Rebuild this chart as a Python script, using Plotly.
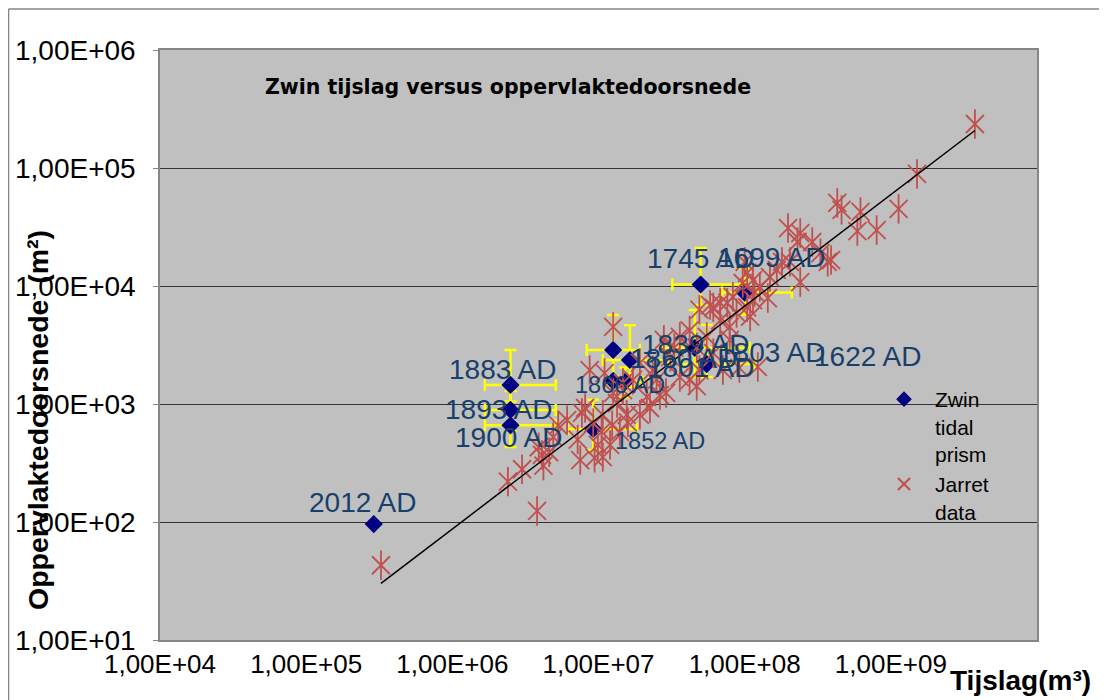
import numpy as np
import plotly.graph_objects as go

# ---------------- data ----------------
zwin_labels = ["2012 AD", "1883 AD", "1893 AD", "1900 AD", "1852 AD", "1839 AD", "1860 AD",
               "1866 AD", "1801 AD", "1803 AD", "1622 AD", "1745 AD", "1699 AD"]
zwin_prism = [2.9e5, 2.5e6, 2.5e6, 2.5e6, 9.2e6, 1.26e7, 1.64e7, 1.26e7, 1.52e7, 4.56e7, 5.5e7, 5.0e7, 1.0e8]
zwin_area = [96, 1450, 890, 660, 614, 2870, 2360, 1570, 1540, 2990, 2180, 10300, 8800]
zwin_xerr_plus = [0, 2.6e6, 2.6e6, 2.6e6, 9.1e6, 6.6e6, 1.44e7, 0, 5.0e6, 6.3e7, 6.2e7, 5.4e7, 1.1e8]
zwin_xerr_minus = [0, 8.3e5, 8.3e5, 8.3e5, 3.0e6, 4.3e6, 5.7e6, 0, 4.0e6, 1.8e7, 1.9e7, 1.8e7, 3.0e7]
zwin_yerr_plus = [0, 1420, 400, 250, 470, 2800, 2300, 0, 500, 3280, 2490, 10700, 5400]
zwin_yerr_minus = [0, 400, 300, 228, 207, 1180, 970, 0, 400, 1300, 490, 3400, 3100]

jarret_prism = [3.25e5, 2.4e6, 3.0e6, 3.8e6, 4.2e6, 4.1e6, 3.9e6, 4.6e6, 6.1e6, 5.3e6,
                7.5e6, 9.4e6, 1.07e7, 9.9e6, 1.05e7, 9.2e6, 7.7e6, 8.1e6, 1.07e7, 1.24e7,
                1.34e7, 1.56e7, 1.26e7, 1.47e7, 8.7e6, 1.1e7, 1.26e7, 1.47e7, 1.72e7, 1.92e7,
                2.35e7, 2.5e7, 2.14e7, 2.9e7, 3.6e7, 4.2e7, 4.9e7, 4.7e7, 7.1e7, 6.1e7,
                2.8e7, 3.6e7, 3.1e7, 4.7e7, 5.5e7, 6.1e7, 7.6e7, 8.8e7, 1.04e8, 1.14e8,
                6.8e7, 7.9e7, 1.04e8, 9.7e7, 1.14e8, 1.23e8, 1.44e8, 1.09e8, 7.9e7, 6.8e7,
                5.8e7, 8.3e7, 1.17e8, 1.27e8, 1.49e8, 1.66e8, 1.8e8, 1.98e8, 2.4e8, 2.3e8,
                2.9e8, 3.9e8, 2.4e8, 3.3e8, 4.3e8, 4.6e8, 6.2e8, 5.9e8, 8.0e8, 1.13e9,
                1.51e9, 3.76e9, 3.7e8, 2.04e8, 1.0e8, 2.25e7, 1.92e7, 1.59e7, 1.4e7, 7.2e6,
                1.2e7, 2.63e7, 9.2e7, 4.9e7, 4.2e7, 3.3e7, 4.9e6]
jarret_area = [43, 220, 280, 124, 300, 370, 430, 390, 730, 660,
               335, 350, 355, 450, 580, 690, 840, 925, 810, 660,
               1020, 810, 1240, 1310, 1940, 1830, 4500, 1510, 1600, 2230,
               1940, 1600, 1150, 1240, 1690, 1600, 1940, 1420, 1940, 2700,
               3500, 3700, 2500, 3000, 3700, 6600, 7200, 5900, 6600, 7600,
               5100, 4500, 12900, 10600, 11200, 2060, 7900, 5500, 3500, 7200,
               6900, 8100, 8900, 9800, 11900, 13700, 16000, 31000, 28100, 23600,
               23600, 16600, 10800, 19000, 50600, 44100, 42400, 29200, 29800, 45000,
               89000, 236000, 16000, 16000, 16000, 925, 810, 700, 580, 500,
               450, 1190, 2020, 6300, 4200, 3000, 525]

x_tick_vals = [1e4, 1e5, 1e6, 1e7, 1e8, 1e9]
x_tick_text = ["1,00E+04", "1,00E+05", "1,00E+06", "1,00E+07", "1,00E+08", "1,00E+09"]
y_tick_vals = [1e1, 1e2, 1e3, 1e4, 1e5, 1e6]
y_tick_text = ["1,00E+01", "1,00E+02", "1,00E+03", "1,00E+04", "1,00E+05", "1,00E+06"]

title_text = "Zwin tijslag versus oppervlaktedoorsnede"
x_title = "Tijslag(m³)"
y_title = "Oppervlaktedoorsnede\u00a0\u00a0(m²)"

# label placement offsets (px) relative to their points
label_dx = [-11, -8, -12, -2, 67, 82, 54, 7, 75, 77, 161, 0, 27]
label_dy = [22, 15, 0, -12, -12, 5, 2, -4, 14, -5, 8, 26, 35]
label_size = [28, 28, 28, 28, 23.5, 28, 28, 23.5, 28, 28, 28, 28, 28]

# power-law trendline fitted to Jarret data
lx = np.log10(jarret_prism)
ly = np.log10(jarret_area)
b, a = np.polyfit(lx, ly, 1)
trend_x = np.array([min(jarret_prism), max(jarret_prism)])
trend_y = 10 ** (a + b * np.log10(trend_x))

FONT = "Liberation Sans, Arial, sans-serif"

fig = go.Figure()

fig.add_trace(go.Scatter(
    x=zwin_prism, y=zwin_area, mode="markers", name="Zwin<br>tidal<br>prism",
    marker=dict(symbol="diamond", size=14, color="#000080"),
    error_x=dict(type="data", array=zwin_xerr_plus, arrayminus=zwin_xerr_minus,
                 color="#FFFF00", thickness=2.5, width=6),
    error_y=dict(type="data", array=zwin_yerr_plus, arrayminus=zwin_yerr_minus,
                 color="#FFFF00", thickness=2.5, width=6),
))

fig.add_trace(go.Scatter(
    x=jarret_prism, y=jarret_area, mode="markers", name="Jarret<br>data",
    marker=dict(symbol="x-thin-open", size=18, color="#C0504D",
                line=dict(color="#C0504D", width=1.8)),
    legendgroup="j",
))
fig.add_trace(go.Scatter(
    x=jarret_prism, y=jarret_area, mode="markers", showlegend=False,
    marker=dict(symbol="line-ns-open", size=21, color="#C0504D",
                line=dict(color="#C0504D", width=1.8)),
    legendgroup="j", hoverinfo="skip",
))

fig.add_trace(go.Scatter(
    x=trend_x, y=trend_y, mode="lines", showlegend=False,
    line=dict(color="black", width=1.5),
))

annotations = []
for lab, px, py, dx, dy, fs in zip(zwin_labels, zwin_prism, zwin_area, label_dx, label_dy, label_size):
    annotations.append(dict(
        x=np.log10(px), y=np.log10(py), xref="x", yref="y", text=lab, showarrow=False,
        xshift=dx, yshift=dy, font=dict(family=FONT, size=fs, color="#17406D"),
    ))

annotations.append(dict(
    x=0.1174, y=0.9373, xref="paper", yref="paper", xanchor="left", yanchor="middle",
    text="<b>" + title_text + "</b>", showarrow=False,
    font=dict(family="DejaVu Sans, Verdana, sans-serif", size=20.5, color="black"),
))
annotations.append(dict(
    x=0.8985, y=-0.0678, xref="paper", yref="paper", xanchor="left", yanchor="middle",
    text="<b>" + x_title + "</b>", showarrow=False,
    font=dict(family=FONT, size=28, color="black"),
))
annotations.append(dict(
    x=-0.139, y=0.373, xref="paper", yref="paper", xanchor="center", yanchor="middle",
    text="<b>" + y_title + "</b>", showarrow=False, textangle=-90,
    font=dict(family=FONT, size=28.5, color="black"),
))

fig.update_layout(
    width=1107, height=700,
    margin=dict(l=152, r=78, t=42, b=68, autoexpand=False),
    paper_bgcolor="white", plot_bgcolor="#C0C0C0",
    font=dict(family=FONT, size=26, color="black"),
    annotations=annotations,
    showlegend=True,
    legend=dict(x=0.813, y=0.4424, xanchor="left", yanchor="top", bgcolor="rgba(0,0,0,0)",
                font=dict(family=FONT, size=21, color="black"), valign="top",
                tracegroupgap=0, itemsizing="constant", itemwidth=52),
    shapes=[
        dict(type="line", xref="paper", yref="paper", x0=-0.1727, x1=1.1, y0=1.0695, y1=1.0695,
             line=dict(color="#868686", width=1.5)),
        dict(type="line", xref="paper", yref="paper", x0=-0.1727, x1=-0.1727, y0=-0.2, y1=1.0695,
             line=dict(color="#868686", width=1.5)),
    ],
)

fig.update_xaxes(type="log", range=[4, 10], tickvals=x_tick_vals, ticktext=x_tick_text,
                 showgrid=False, zeroline=False, showline=True, linecolor="#868686", linewidth=1.5,
                 mirror=True, ticks="",
                 tickfont=dict(family=FONT, size=26, color="black"))
fig.update_yaxes(type="log", range=[1, 6], tickvals=y_tick_vals, ticktext=y_tick_text,
                 showgrid=True, gridcolor="#333333", gridwidth=1, zeroline=False,
                 showline=True, linecolor="#868686", linewidth=1.5, mirror=True,
                 ticks="outside", ticklen=5, tickcolor="#868686", ticklabelstandoff=12,
                 tickfont=dict(family=FONT, size=28, color="black"))

fig.write_html("out.html")
